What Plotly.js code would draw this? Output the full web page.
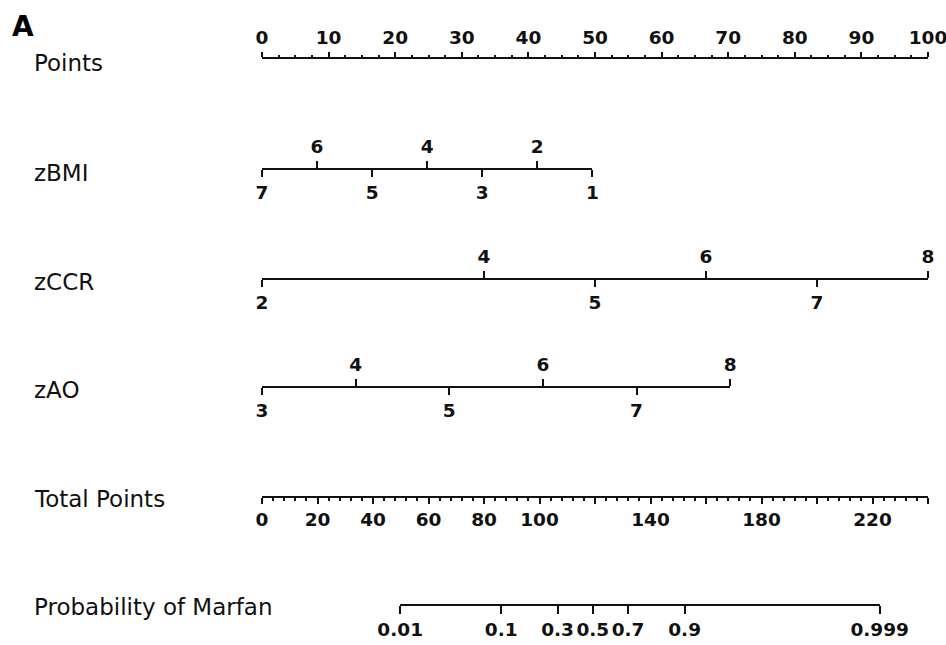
<!DOCTYPE html>
<html>
<head>
<meta charset="utf-8">
<script src="https://cdn.plot.ly/plotly-3.0.1.min.js"></script>
<style>html,body{margin:0;padding:0;background:#fff;}#chart{width:946px;height:645px;}</style>
</head>
<body>
<div id="chart"></div>
<script>
// ---- Data ----
const rowLabels = ["Points", "zBMI", "zCCR", "zAO", "Total Points", "Probability of Marfan"];
const panelLetter = "A";

// Points scale
const pointsTicks = [0, 10, 20, 30, 40, 50, 60, 70, 80, 90, 100];
const pointsMinorStep = 2.5;

// Predictor values and their positions on the Points scale
const zbmiValues = [7, 6, 5, 4, 3, 2, 1];
const zbmiPoints = [0, 8.27, 16.53, 24.8, 33.07, 41.33, 49.6];

const zccrValues = [2, 4, 5, 6, 7, 8];
const zccrPoints = [0, 33.33, 50, 66.67, 83.33, 100];

const zaoValues = [3, 4, 5, 6, 7, 8];
const zaoPoints = [0, 14.06, 28.12, 42.18, 56.24, 70.3];

// Total points scale
const totalTicks = [0, 20, 40, 60, 80, 100, 120, 140, 160, 180, 200, 220, 240];
const totalLabels = ["0", "20", "40", "60", "80", "100", "", "140", "", "180", "", "220", ""];
const totalMinorStep = 4;

// Probability labels and their positions on the Total Points scale
const probLabels = ["0.01", "0.1", "0.3", "0.5", "0.7", "0.9", "0.999"];
const probTotalPoints = [49.8, 86.2, 106.5, 119.2, 131.9, 152.3, 222.6];

// ---- Styling ----
const C = "#111111";
const F = "DejaVu Sans, Verdana, sans-serif";
const POINTS_MAX = 100;
const TOTAL_MAX = totalTicks[totalTicks.length - 1];

function axis(opts) {
  const a = {
    anchor: "free", position: opts.pos, side: opts.side,
    range: opts.range, domain: opts.domain,
    tickmode: "array", tickvals: opts.tickvals, ticktext: opts.ticktext,
    ticks: "outside", ticklen: opts.ticklen, tickwidth: 2, tickcolor: C,
    showline: true, linewidth: 2, linecolor: C,
    showgrid: false, zeroline: false, tickangle: 0,
    tickfont: {family: F, size: 18.5, color: C, weight: "bold"},
    ticklabeloverflow: "allow", fixedrange: true, automargin: false
  };
  if (opts.minor) a.minor = opts.minor;
  return a;
}

// split a predictor scale into alternating bottom/top label sets
function split(values) {
  const bottom = values.filter((v, i) => i % 2 === 0);
  const top = values.filter((v, i) => i % 2 === 1);
  return {bottom, top};
}

function varAxes(values, points, pos) {
  const range = [values[0], values[values.length - 1]];
  const domain = [points[0] / POINTS_MAX, points[points.length - 1] / POINTS_MAX];
  const s = split(values);
  return [
    axis({pos, side: "top", range, domain, tickvals: s.top, ticktext: s.top.map(String), ticklen: 7}),
    axis({pos, side: "bottom", range, domain, tickvals: s.bottom, ticktext: s.bottom.map(String), ticklen: 7})
  ];
}

const ypos = {points: 1 - 57.5 / 645, zbmi: 1 - 168.5 / 645, zccr: 1 - 278.5 / 645,
              zao: 1 - 386.5 / 645, total: 1 - 497 / 645, prob: 1 - 605 / 645};

const layout = {
  width: 946, height: 645,
  margin: {l: 262, r: 18, t: 0, b: 0, pad: 0},
  paper_bgcolor: "#ffffff", plot_bgcolor: "rgba(0,0,0,0)",
  showlegend: false,
  yaxis: {range: [0, 1], domain: [0, 1], visible: false, fixedrange: true},
  xaxis: axis({pos: ypos.points, side: "top", range: [0, POINTS_MAX], domain: [0, 1],
               tickvals: pointsTicks, ticktext: pointsTicks.map(String), ticklen: 5,
               minor: {ticks: "outside", ticklen: 2, tickwidth: 2, tickcolor: C,
                       tickmode: "linear", tick0: 0, dtick: pointsMinorStep, showgrid: false}})
};

const zb = varAxes(zbmiValues, zbmiPoints, ypos.zbmi);
const zc = varAxes(zccrValues, zccrPoints, ypos.zccr);
const za = varAxes(zaoValues, zaoPoints, ypos.zao);
layout.xaxis2 = zb[0]; layout.xaxis3 = zb[1];
layout.xaxis4 = zc[0]; layout.xaxis5 = zc[1];
layout.xaxis6 = za[0]; layout.xaxis7 = za[1];
layout.xaxis8 = axis({pos: ypos.total, side: "bottom", range: [0, TOTAL_MAX], domain: [0, 1],
                      tickvals: totalTicks, ticktext: totalLabels, ticklen: 6,
                      minor: {ticks: "outside", ticklen: 3, tickwidth: 2, tickcolor: C,
                              tickmode: "linear", tick0: 0, dtick: totalMinorStep, showgrid: false}});
const pr0 = probTotalPoints[0], pr1 = probTotalPoints[probTotalPoints.length - 1];
layout.xaxis9 = axis({pos: ypos.prob, side: "bottom", range: [pr0, pr1],
                      domain: [pr0 / TOTAL_MAX, pr1 / TOTAL_MAX],
                      tickvals: probTotalPoints, ticktext: probLabels, ticklen: 8});

// invisible anchor traces so each axis is drawn
const axisIds = ["x", "x2", "x3", "x4", "x5", "x6", "x7", "x8", "x9"];
const data = axisIds.map(id => {
  const ax = layout[id === "x" ? "xaxis" : "xaxis" + id.slice(1)];
  return {type: "scatter", mode: "markers", x: [ax.range[0]], y: [0.5], xaxis: id, yaxis: "y",
          marker: {opacity: 0, size: 1}, hoverinfo: "skip", showlegend: false};
});

// row labels
const labelY = [63, 173, 282, 390, 499, 607];
const lx = (32 - 262) / 666;
layout.annotations = rowLabels.map((t, i) => ({
  text: t, xref: "paper", yref: "paper", x: lx, y: 1 - labelY[i] / 645,
  xanchor: "left", yanchor: "middle", showarrow: false,
  font: {family: F, size: 23, color: C}
}));
layout.annotations.push({
  text: panelLetter, xref: "paper", yref: "paper", x: (10 - 262) / 666, y: 1 - 26 / 645,
  xanchor: "left", yanchor: "middle", showarrow: false,
  font: {family: F, size: 28, color: "#000", weight: "bold"}
});

Plotly.newPlot("chart", data, layout, {staticPlot: true, displayModeBar: false});
</script>
</body>
</html>
